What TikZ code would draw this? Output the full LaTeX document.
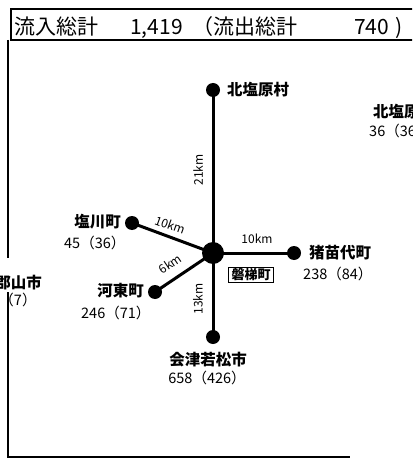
\documentclass[tikz,border=0pt]{standalone}
\usepackage{fontspec}
\setmainfont{Noto Sans CJK JP}
\begin{document}
\begin{tikzpicture}[x=1pt,y=-1pt,
  lbl/.style={inner sep=0pt,font=\fontsize{15.5}{17}\selectfont\bfseries},
  num/.style={inner sep=0pt,font=\fontsize{14.5}{16}\selectfont},
  km/.style={inner sep=0pt,font=\fontsize{12}{14}\selectfont},
  hdr/.style={inner sep=0pt,anchor=base west,font=\fontsize{21}{23}\selectfont},
  dot/.style={circle,fill=black,inner sep=0pt,minimum size=14pt},
  edge/.style={line width=3pt},
  frame/.style={line width=1.2pt}]
\clip (0,0) rectangle (412,462);
\fill[white] (0,0) rectangle (412,462);
% frame
\draw[frame] (420,9) -- (11,9) -- (11,40) -- (420,40);
\draw[frame] (8,40) -- (8,258);
\draw[frame] (8,292) -- (8,457) -- (350,457);
% header
\node[hdr] (h1) at (14,35) {流入総計};
\node[hdr] (h2) at (130,35) {1,419};
\node[hdr] (h3) at (192,35) {（流出総計};
\node[hdr] (h4) at (354,35) {740};
\node[hdr] (h5) at (395,35) {)};
% nodes
\node[dot,minimum size=22pt] (c) at (213,253) {};
\node[dot] (n) at (213,90) {};
\node[dot] (w1) at (132,223) {};
\node[dot] (w2) at (155,292) {};
\node[dot] (e) at (294,253) {};
\node[dot] (s) at (213,337) {};
% edges
\draw[edge] (c.center) -- (n.center);
\draw[edge] (c.center) -- (w1.center);
\draw[edge] (c.center) -- (w2.center);
\draw[edge] (c.center) -- (e.center);
\draw[edge] (c.center) -- (s.center);
% edge labels
\node[km,rotate=90] (k1) at (198,170) {21km};
\node[km,rotate=-20] (k2) at (170,225) {10km};
\node[km,rotate=34] (k3) at (170,264) {6km};
\node[km] (k4) at (257,239) {10km};
\node[km,rotate=90] (k5) at (198,299) {13km};
% labels
\node[lbl,anchor=west] (ln) at (227,90) {北塩原村};
\node[lbl,anchor=east] (lw1) at (121,222) {塩川町};
\node[num,anchor=west] (nw1) at (64,243) {45（36）};
\node[lbl,anchor=east] (lw2) at (144,291) {河東町};
\node[num,anchor=west] (nw2) at (81,313) {246（71）};
\node[lbl,anchor=west] (le) at (309,253) {猪苗代町};
\node[num,anchor=west] (ne) at (303,274) {238（84）};
\node[lbl] (ls) at (208,360) {会津若松市};
\node[num] (ns) at (207,378) {658（426）};
\node[draw,line width=0.8pt,inner xsep=3pt,inner ysep=1.5pt,font=\fontsize{13}{15}\selectfont\bfseries] (bb) at (251,275) {磐梯町};
\node[lbl,anchor=east] (lk) at (42,283) {郡山市};
\node[num] (nk) at (18,300) {（7）};
\node[lbl,anchor=west] (ln2) at (373,112) {北塩原村};
\node[num,anchor=west] (nn2) at (369,131) {36（36）};
\end{tikzpicture}
\end{document}
